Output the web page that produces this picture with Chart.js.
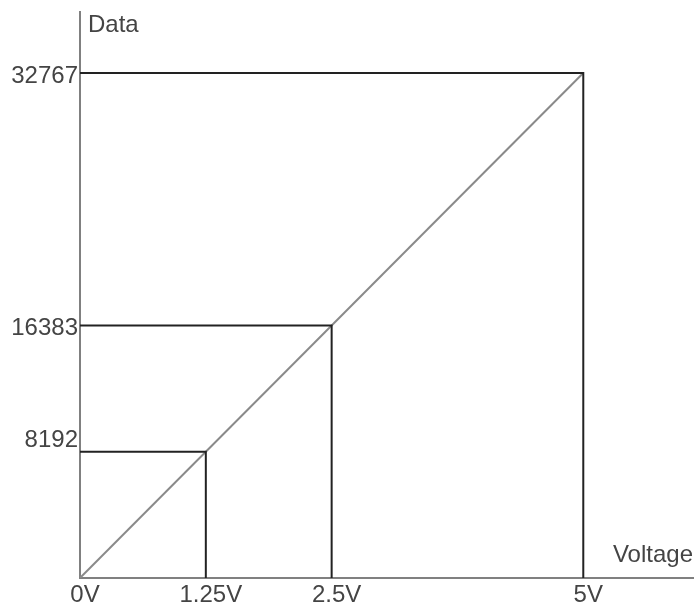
<!DOCTYPE html>
<html>
<head>
<meta charset="utf-8">
<script src="https://cdn.jsdelivr.net/npm/chart.js@4"></script>
<style>
  html, body { margin: 0; padding: 0; background: #fff; }
  #wrap { width: 695px; height: 610px; position: relative; }
</style>
</head>
<body>
<div id="wrap"><canvas id="adcChart"></canvas></div>
<script>
// tick positions and labels
const voltTicks = [0, 1.25, 2.5, 5];
const voltLabels = ["0V", "1.25V", "2.5V", "5V"];
const codeTicks = [8192, 16383, 32767];

// reference points: voltage -> code
const refVolts = [1.25, 2.5, 5];
const refCodes = [8192, 16383, 32767];

// transfer line
const lineVolts = [0, 5];
const lineCodes = [0, 32767];

const FONT = "'Liberation Sans', Arial, sans-serif";
const TEXT = "#444";

function guideData(v, c) {
  return [{ x: 0, y: c }, { x: v, y: c }, { x: v, y: 0 }];
}

const datasets = refVolts.map((v, i) => ({
  data: guideData(v, refCodes[i]),
  showLine: true,
  borderColor: "#222",
  borderWidth: 2,
  pointRadius: 0,
  tension: 0
}));

datasets.push({
  data: lineVolts.map((v, i) => ({ x: v, y: lineCodes[i] })),
  showLine: true,
  borderColor: "#8a8a8a",
  borderWidth: 2,
  pointRadius: 0,
  tension: 0
});

const axisTitles = {
  id: "axisTitles",
  afterDraw(chart) {
    const { ctx, chartArea } = chart;
    ctx.save();
    ctx.fillStyle = TEXT;
    ctx.font = `24px ${FONT}`;
    ctx.textBaseline = "alphabetic";
    ctx.textAlign = "left";
    ctx.fillText("Data", chartArea.left + 8, chartArea.top + 20);
    ctx.textAlign = "right";
    ctx.fillText("Voltage", chartArea.right, chartArea.bottom - 16);
    ctx.restore();
  }
};

new Chart(document.getElementById("adcChart"), {
  type: "scatter",
  data: { datasets },
  plugins: [axisTitles],
  options: {
    responsive: true,
    maintainAspectRatio: false,
    animation: false,
    layout: { padding: { top: 12, right: 2, left: 0, bottom: 0 } },
    plugins: {
      legend: { display: false },
      tooltip: { enabled: false }
    },
    scales: {
      x: {
        type: "linear",
        min: 0,
        max: 6.09,
        grid: { display: false, drawTicks: false },
        border: { display: true, color: "#808080", width: 2 },
        afterBuildTicks: s => { s.ticks = voltTicks.map(v => ({ value: v })); },
        afterFit: s => { s.height = 32; s.paddingLeft = 0; s.paddingRight = 0; },
        ticks: {
          autoSkip: false,
          maxRotation: 0,
          padding: 3,
          labelOffset: 5,
          color: TEXT,
          font: { family: FONT, size: 24 },
          callback: v => voltLabels[voltTicks.indexOf(v)] ?? ""
        }
      },
      y: {
        type: "linear",
        min: 0,
        max: 36720,
        grid: { display: false, drawTicks: false },
        border: { display: true, color: "#808080", width: 2 },
        afterBuildTicks: s => { s.ticks = codeTicks.map(v => ({ value: v })); },
        afterFit: s => { s.width = 80; s.paddingTop = 0; s.paddingBottom = 0; },
        ticks: {
          autoSkip: false,
          padding: 2,
          labelOffset: 3,
          color: TEXT,
          font: { family: FONT, size: 24 },
          // lowest label sits a little above its line in the original
          callback: v => v === codeTicks[0] ? [String(v), ""] : String(v)
        }
      }
    }
  }
});
</script>
</body>
</html>
